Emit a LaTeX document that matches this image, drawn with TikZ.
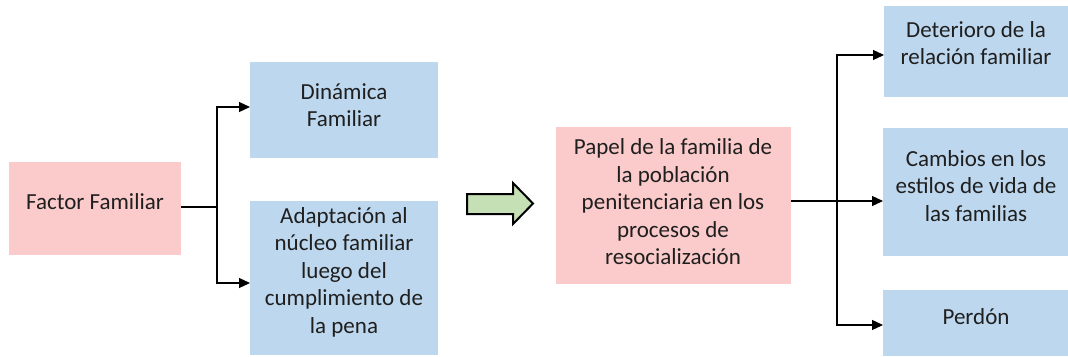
\documentclass[tikz,border=0pt]{standalone}
\usepackage{fontspec}
\setmainfont{Carlito}
\usetikzlibrary{arrows.meta,calc}
\definecolor{pinkbox}{HTML}{FBCACA}
\definecolor{bluebox}{HTML}{BDD7EE}
\definecolor{greenarr}{HTML}{C5E0B4}
\definecolor{txt}{HTML}{1F1F1F}
\begin{document}
\begin{tikzpicture}[x=1pt,y=-1pt,
  box/.style={draw=none,inner sep=0pt,anchor=north west},
  pinkb/.style={box,fill=pinkbox},
  blueb/.style={box,fill=bluebox},
  lbl/.style={align=center,text=txt,font=\fontsize{23}{27.5}\selectfont,inner sep=0pt},
  conn/.style={line width=1.2pt,draw=black},
  arr/.style={conn,-{Triangle[length=11pt,width=10pt]}}]
\useasboundingbox (0,0) rectangle (1068,356);
% boxes
\node[pinkb,minimum width=172pt,minimum height=93pt] (ff) at (9,162) {};
\node[blueb,minimum width=188pt,minimum height=96pt] (din) at (250,62) {};
\node[blueb,minimum width=188pt,minimum height=154pt] (ada) at (250,201) {};
\node[pinkb,minimum width=235pt,minimum height=157pt] (pap) at (556,127) {};
\node[blueb,minimum width=185pt,minimum height=91pt] (det) at (884,6) {};
\node[blueb,minimum width=185pt,minimum height=128pt] (cam) at (883,128) {};
\node[blueb,minimum width=185pt,minimum height=66pt] (per) at (883,290) {};
% texts
\node[lbl] (tff) at (95,202) {Factor Familiar};
\node[lbl] (tdin) at (344,105) {Dinámica\\Familiar};
\node[lbl] (tada) at (344,272) {Adaptación al\\núcleo familiar\\luego del\\cumplimiento de\\la pena};
\node[lbl] (tpap) at (673,202) {Papel de la familia de\\la población\\penitenciaria en los\\procesos de\\resocialización};
\node[lbl] (tdet) at (976,43) {Deterioro de la\\relación familiar};
\node[lbl] (tcam) at (976,186) {Cambios en los\\estilos de vida de\\las familias};
\node[lbl] (tper) at (976,317) {Perdón};
% connectors left
\coordinate (jl) at (217,207);
\draw[conn] (ff.east |- jl) -- (jl);
\draw[arr] (jl) -- (217,107) -- (din.west |- 0,107);
\draw[arr] (jl) -- (217,283) -- (ada.west |- 0,283);
% connectors right
\coordinate (jr) at (837,201);
\draw[arr] (pap.east |- jr) -- (cam.west |- jr);
\draw[arr] (jr) -- (837,55) -- (det.west |- 0,55);
\draw[arr] (jr) -- (837,325) -- (per.west |- 0,325);
% green block arrow
\draw[line width=2pt,fill=greenarr,line join=miter]
  (467,194) -- (513,194) -- (513,183) -- (533,203.5) -- (513,224) -- (513,214) -- (467,214) -- cycle;
\end{tikzpicture}
\end{document}
